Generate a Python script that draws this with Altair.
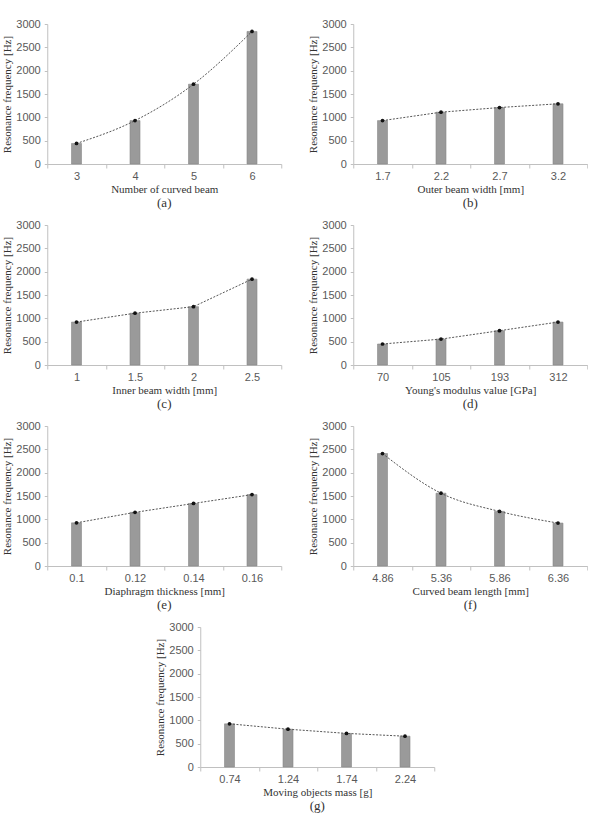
import altair as alt
import pandas as pd

# Resonance frequency [Hz] versus each design parameter
curved_beam_count = ["3", "4", "5", "6"]
freq_a = [440, 930, 1710, 2840]

outer_width = ["1.7", "2.2", "2.7", "3.2"]
freq_b = [930, 1110, 1210, 1290]

inner_width = ["1", "1.5", "2", "2.5"]
freq_c = [920, 1110, 1250, 1840]

youngs_modulus = ["70", "105", "193", "312"]
freq_d = [450, 555, 735, 920]

diaphragm_thickness = ["0.1", "0.12", "0.14", "0.16"]
freq_e = [925, 1150, 1340, 1530]

curved_length = ["4.86", "5.36", "5.86", "6.36"]
freq_f = [2410, 1560, 1170, 920]

moving_mass = ["0.74", "1.24", "1.74", "2.24"]
freq_g = [925, 810, 720, 660]

Y_TICKS = [0, 500, 1000, 1500, 2000, 2500, 3000]
SERIF = "Liberation Serif"
SANS = "Liberation Sans"


def panel(xs, ys, xtitle, caption, interp="linear"):
    df = pd.DataFrame({"x": xs, "f": ys})
    x = alt.X(
        "x:N",
        sort=None,
        title=xtitle,
        scale=alt.Scale(paddingInner=0, paddingOuter=0),
        axis=alt.Axis(labelAngle=0, tickBand="extent", tickSize=4,
                      labelPadding=2, titlePadding=2),
    )
    y = alt.Y(
        "f:Q",
        title="Resonance frequency [Hz]",
        scale=alt.Scale(domain=[0, 3000]),
        axis=alt.Axis(values=Y_TICKS, format="d", tickSize=3, labelPadding=4,
                      titlePadding=3),
    )
    base = alt.Chart(df).encode(x=x, y=y)
    bars = base.mark_bar(size=10, color="#9a9a9a", stroke="#888888",
                         strokeWidth=0.6)
    line = base.mark_line(color="#555555", strokeWidth=1,
                          strokeDash=[2, 1.5], interpolate=interp)
    pts = base.mark_point(filled=True, color="#111111", size=14, opacity=1)
    return alt.layer(bars, line, pts).properties(
        width=234,
        height=140,
        title=alt.Title(caption, orient="bottom", font=SERIF, fontSize=13,
                        fontWeight="normal", color="#333333", offset=3),
    )


a = panel(curved_beam_count, freq_a, "Number of curved beam", "(a)", "monotone")
b = panel(outer_width, freq_b, "Outer beam width [mm]", "(b)")
c = panel(inner_width, freq_c, "Inner beam width [mm]", "(c)")
d = panel(youngs_modulus, freq_d, "Young's modulus value [GPa]", "(d)")
e = panel(diaphragm_thickness, freq_e, "Diaphragm thickness [mm]", "(e)")
f = panel(curved_length, freq_f, "Curved beam length [mm]", "(f)", "monotone")
g = panel(moving_mass, freq_g, "Moving objects mass [g]", "(g)")

chart = (
    alt.vconcat(
        alt.hconcat(a, b, spacing=25),
        alt.hconcat(c, d, spacing=25),
        alt.hconcat(e, f, spacing=25),
        g,
        spacing=9,
        center=True,
    )
    .properties(padding={"left": 1, "top": 18, "right": 0, "bottom": 0},
                background="white")
    .configure_view(stroke=None)
    .configure_axis(
        grid=False,
        labelFont=SANS,
        labelFontSize=11,
        labelColor="#595959",
        titleFont=SERIF,
        titleFontSize=11,
        titleFontWeight="normal",
        titleColor="#333333",
        domainColor="#c0c0c0",
        tickColor="#c0c0c0",
    )
)

chart.save("out.html", embed_options={"renderer": "svg", "actions": False})
